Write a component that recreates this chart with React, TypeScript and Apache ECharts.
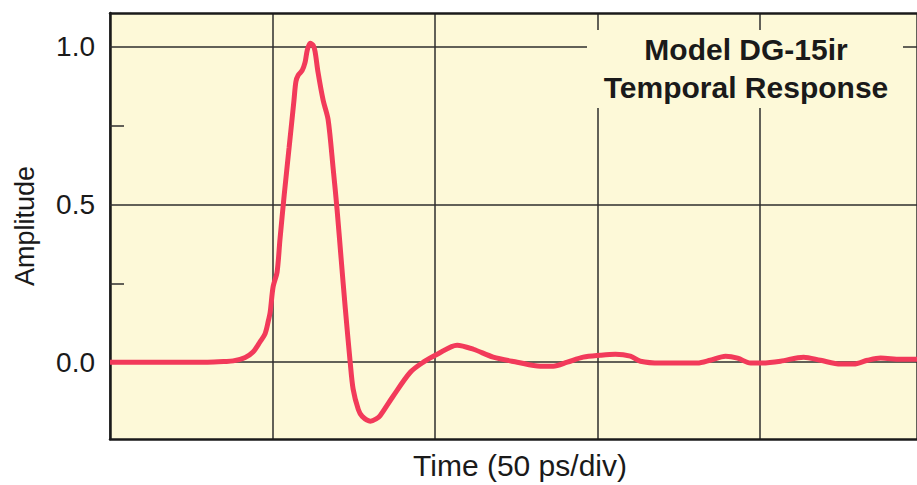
import React, { useEffect, useRef } from "react";
import * as echarts from "echarts";

// Time in picoseconds (50 ps per division)
const timePs: number[] = [
  0, 20, 30, 35.4, 37.9, 41.6, 44.0, 46.2, 47.7, 48.7, 49.3, 50.2, 51.4, 52.3,
  53.6, 55.1, 56.6, 57.2, 57.9, 59.1, 60.0, 60.7, 61.6, 62.5, 63.1, 64.0, 65.6,
  67.1, 68.7, 69.9, 71.1, 72.4, 73.9, 74.8, 76.4, 77.6, 80.1, 81.9, 83.1, 87.1,
  92.4, 96.4, 100.7, 106.8, 111.8, 117.9, 125.3, 132.4, 136.4, 140.7, 145.6,
  150.9, 155.5, 160.1, 163.2, 169.3, 180.7, 184.7, 189.4, 193.1, 197.1, 200.1,
  206.3, 213.4, 218.6, 224.8, 228.8, 233.1, 237.1, 243.2, 248.3,
];
const amplitude: number[] = [
  0, 0, 0, 0.002, 0.004, 0.015, 0.032, 0.065, 0.09, 0.13, 0.16, 0.24, 0.285,
  0.39, 0.53, 0.68, 0.83, 0.89, 0.91, 0.925, 0.95, 0.99, 1.012, 1.005, 0.985,
  0.92, 0.83, 0.77, 0.61, 0.48, 0.33, 0.17, 0, -0.085, -0.15, -0.172, -0.187,
  -0.18, -0.17, -0.108, -0.032, 0, 0.025, 0.054, 0.041, 0.016, 0, -0.013,
  -0.013, 0, 0.016, 0.022, 0.025, 0.019, 0.003, -0.003, -0.003, 0.006, 0.019,
  0.013, -0.003, -0.003, 0.003, 0.016, 0.006, -0.006, -0.006, 0.006, 0.013,
  0.009, 0.009,
];

const yLabelValues: number[] = [0, 0.5, 1.0];
const yMinorTicks: number[] = [0.25, 0.75];
const yGridValues: number[] = [0, 0.5, 1.0];
const titleLines: string[] = ["Model DG-15ir", "Temporal Response"];
const xAxisName = "Time (50 ps/div)";
const yAxisName = "Amplitude";

const BG = "#fdf9d8";
const GRID = "#2e2e2e";
const BORDER = "#1a1a1a";
const FONT = "'Liberation Sans', Arial, Helvetica, sans-serif";

export default function App() {
  const ref = useRef<HTMLDivElement>(null);
  useEffect(() => {
    document.body.style.margin = "0";
    if (!ref.current) return;
    const chart = echarts.init(ref.current, undefined, { renderer: "svg" });
    const data = timePs.map((t, i) => [t, amplitude[i]]);
    chart.setOption({
      animation: false,
      backgroundColor: "#ffffff",
      grid: {
        left: 110,
        top: 13,
        right: 0,
        height: 427,
        show: true,
        backgroundColor: BG,
        borderWidth: 0,
        z: 0,
      },
      xAxis: [
        {
          type: "value",
          min: 0,
          max: 248.3,
          interval: 50,
          axisLine: { show: true, onZero: false, lineStyle: { color: BORDER, width: 2.5 } },
          axisTick: { show: false },
          axisLabel: { show: false },
          splitLine: { show: true, lineStyle: { color: GRID, width: 1.5 } },
          name: xAxisName,
          nameLocation: "middle",
          nameGap: 11,
          nameTextStyle: {
            fontFamily: FONT,
            fontSize: 30,
            color: "#1a1a1a",
            verticalAlign: "top",
            padding: [0, 0, 0, 13],
          },
        },
        {
          type: "value",
          position: "top",
          min: 0,
          max: 248.3,
          axisLine: { show: true, onZero: false, lineStyle: { color: BORDER, width: 2.5 } },
          axisTick: { show: false },
          axisLabel: { show: false },
          splitLine: { show: false },
        },
      ],
      yAxis: {
        type: "value",
        min: -0.2437,
        max: 1.1076,
        axisLine: { show: true, onZero: false, lineStyle: { color: BORDER, width: 2.5 } },
        splitLine: { show: false },
        axisTick: {
          show: true,
          inside: true,
          length: 14,
          customValues: yMinorTicks,
          lineStyle: { color: GRID, width: 1.5 },
        },
        axisLabel: {
          show: true,
          customValues: yLabelValues,
          formatter: (v: number) => v.toFixed(1),
          fontFamily: FONT,
          fontSize: 28,
          color: "#1a1a1a",
          margin: 15,
        },
        name: yAxisName,
        nameLocation: "middle",
        nameRotate: 90,
        nameGap: 72,
        nameTextStyle: {
          fontFamily: FONT,
          fontSize: 27,
          color: "#1a1a1a",
        },
      },
      series: [
        {
          type: "line",
          data: [],
          z: 1,
          silent: true,
          markLine: {
            silent: true,
            symbol: ["none", "none"],
            label: { show: false },
            lineStyle: { color: GRID, width: 1.5, type: "solid" },
            data: yGridValues.map((v) => ({ yAxis: v })),
          },
        },
        {
          type: "line",
          data,
          z: 5,
          smooth: 0.3,
          showSymbol: false,
          lineStyle: { color: "#f23a5a", width: 5 },
        },
      ],
      graphic: [
        {
          type: "rect",
          z: 10,
          shape: { x: 587, y: 30, width: 316, height: 78 },
          style: { fill: BG },
        },
        {
          type: "text",
          z: 11,
          x: 746,
          y: 49,
          style: {
            text: titleLines[0],
            font: `bold 30px ${FONT}`,
            fill: "#1a1a1a",
            textAlign: "center",
            textVerticalAlign: "middle",
          },
        },
        {
          type: "text",
          z: 11,
          x: 746,
          y: 87,
          style: {
            text: titleLines[1],
            font: `bold 30px ${FONT}`,
            fill: "#1a1a1a",
            textAlign: "center",
            textVerticalAlign: "middle",
          },
        },
      ],
    });
    return () => chart.dispose();
  }, []);
  return (
    <div
      ref={ref}
      style={{ position: "absolute", left: 0, top: 0, width: 917, height: 485 }}
    />
  );
}
